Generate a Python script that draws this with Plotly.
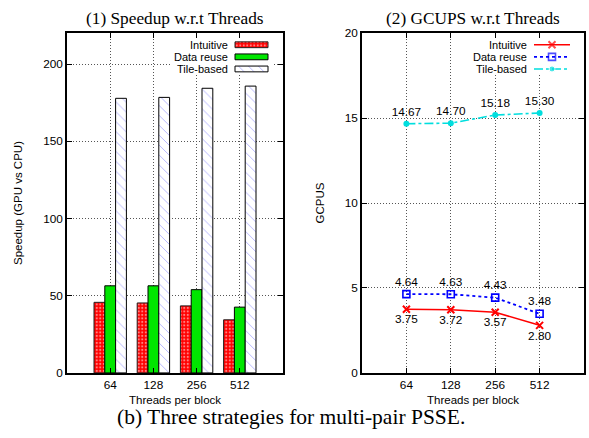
import plotly.graph_objects as go

# ---------------- data ----------------
threads = ["64", "128", "256", "512"]
series_names = ["Intuitive", "Data reuse", "Tile-based"]

speedup_intuitive = [45.7, 45.3, 43.4, 34.4]
speedup_data_reuse = [56.4, 56.4, 53.9, 42.6]
speedup_tile = [177.8, 178.4, 184.3, 185.7]

gcups_intuitive = [3.75, 3.72, 3.57, 2.80]
gcups_data_reuse = [4.64, 4.63, 4.43, 3.48]
gcups_tile = [14.67, 14.70, 15.18, 15.30]

speedup_ticks = [0, 50, 100, 150, 200]
gcups_ticks = [0, 5, 10, 15, 20]

# ---------------- styles ----------------
W, H = 589, 438
SANS = "Liberation Sans, Arial, sans-serif"
SERIF = "Liberation Serif, Times New Roman, serif"
FS = 11.8
LFS = 11


def px(x):
    return x / W


def py(y):
    return 1 - y / H


dom_x1 = [px(67), px(283)]
dom_x2 = [px(362), px(584)]
dom_y = [py(378), py(27)]

RED = "#ff0000"
GREEN = "#00e600"
BLUE = "#3333ff"
LBLUE = "#0000ff"
CYAN = "#00dede"

bar_styles = [
    dict(color=RED, line=dict(color="#222", width=1),
         pattern=dict(shape=".", fgcolor="white", bgcolor=RED, size=3.5, solidity=0.3)),
    dict(color=GREEN, line=dict(color="black", width=1)),
    dict(color="white", line=dict(color="black", width=1),
         pattern=dict(shape="\\", fgcolor=BLUE, bgcolor="white", size=7, solidity=0.1)),
]

line_styles = [
    dict(line=dict(color=RED, width=1.6),
         marker=dict(symbol="x-thin-open", size=7, color=RED, line=dict(color=RED, width=2)),
         textposition="bottom center"),
    dict(line=dict(color=LBLUE, width=1.8, dash="dot"),
         marker=dict(symbol="square-open", size=7, color=LBLUE, line=dict(color=LBLUE, width=1.6)),
         textposition="top center"),
    dict(line=dict(color=CYAN, width=1.6, dash="dashdot"),
         marker=dict(symbol="circle", size=6, color=CYAN),
         textposition="top center"),
]

fig = go.Figure()

# ---------------- panel 1: bars ----------------
for name, vals, st in zip(series_names,
                          [speedup_intuitive, speedup_data_reuse, speedup_tile],
                          bar_styles):
    fig.add_trace(go.Bar(x=threads, y=vals, name=name, marker=st,
                         xaxis="x", yaxis="y", hoverinfo="x+y+name"))

# ---------------- panel 2: lines ----------------
for name, vals, st in zip(series_names,
                          [gcups_intuitive, gcups_data_reuse, gcups_tile],
                          line_styles):
    fig.add_trace(go.Scatter(x=threads, y=vals, name=name,
                             mode="lines+markers+text",
                             text=[f"{v:.2f}" for v in vals],
                             textposition=st["textposition"],
                             textfont=dict(family=SANS, size=FS, color="black"),
                             line=st["line"], marker=st["marker"],
                             xaxis="x2", yaxis="y2", cliponaxis=False))

# ---------------- custom legends (gnuplot style: text then sample) ----------------
legend_rows_px = [39, 51.5, 64]
p1_w, p1_h = 283 - 67, 378 - 27
p2_w = 584 - 362
row_frac = [(378 - r) / p1_h for r in legend_rows_px]

box_y0 = (378 - 70) / p1_h
box_y1 = (378 - 31) / p1_h

# white legend boxes (hide grid lines behind legend)
for xa, ya, bx0, bx1 in [("x3", "y3", (170 - 67) / p1_w, (274 - 67) / p1_w),
                         ("x4", "y4", (467 - 362) / p2_w, (575 - 362) / p2_w)]:
    fig.add_trace(go.Bar(orientation="h", y=[(box_y0 + box_y1) / 2], x=[bx1 - bx0], base=[bx0],
                         width=[box_y1 - box_y0], offset=[-(box_y1 - box_y0) / 2],
                         marker=dict(color="white", line=dict(width=0)),
                         xaxis=xa, yaxis=ya, hoverinfo="skip", showlegend=False))

# bar samples on an overlay axis (0..1 within panel 1)
s_x0 = (235 - 67) / p1_w
s_len = 33 / p1_w
s_h = 6 / p1_h
for name, fy, st in zip(series_names, row_frac, bar_styles):
    fig.add_trace(go.Bar(orientation="h", y=[fy], x=[s_len], base=[s_x0],
                         width=[s_h], offset=[-s_h / 2], marker=st,
                         xaxis="x3", yaxis="y3", hoverinfo="skip", showlegend=False))

# line samples on an overlay axis (0..1 within panel 2)
l_x0 = (534 - 362) / p2_w
l_x1 = (570 - 362) / p2_w
l_xm = (l_x0 + l_x1) / 2
for name, fy, st in zip(series_names, row_frac, line_styles):
    mk = dict(st["marker"])
    mk["size"] = [0, st["marker"]["size"], 0]
    fig.add_trace(go.Scatter(x=[l_x0, l_xm, l_x1], y=[fy, fy, fy], mode="lines+markers",
                             line=st["line"], marker=mk,
                             xaxis="x4", yaxis="y4", hoverinfo="skip", showlegend=False))

annotations = []
for name, r in zip(series_names, legend_rows_px):
    annotations.append(dict(text=name, x=px(230), y=py(r), xref="paper", yref="paper",
                            xanchor="right", yanchor="middle", showarrow=False,
                            font=dict(family=SANS, size=LFS, color="black")))
    annotations.append(dict(text=name, x=px(529), y=py(r), xref="paper", yref="paper",
                            xanchor="right", yanchor="middle", showarrow=False,
                            font=dict(family=SANS, size=LFS, color="black")))

# titles, axis titles, caption
annotations += [
    dict(text="(1) Speedup w.r.t Threads", x=px(175), y=py(12), xref="paper", yref="paper",
         xanchor="center", yanchor="middle", showarrow=False,
         font=dict(family=SERIF, size=17.3, color="black")),
    dict(text="(2) GCUPS w.r.t Threads", x=px(473), y=py(12), xref="paper", yref="paper",
         xanchor="center", yanchor="middle", showarrow=False,
         font=dict(family=SERIF, size=17.3, color="black")),
    dict(text="Speedup (GPU vs CPU)", x=px(18), y=py(202.5), xref="paper", yref="paper",
         xanchor="center", yanchor="middle", textangle=-90, showarrow=False,
         font=dict(family=SANS, size=11.5, color="black")),
    dict(text="GCPUS", x=px(320.5), y=py(202.5), xref="paper", yref="paper",
         xanchor="center", yanchor="middle", textangle=-90, showarrow=False,
         font=dict(family=SANS, size=11.5, color="black")),
    dict(text="Threads per block", x=px(175), y=py(406), xref="paper", yref="paper",
         xanchor="center", yanchor="middle", showarrow=False,
         font=dict(family=SANS, size=11.5, color="black")),
    dict(text="Threads per block", x=px(473), y=py(406), xref="paper", yref="paper",
         xanchor="center", yanchor="middle", showarrow=False,
         font=dict(family=SANS, size=11.5, color="black")),
    dict(text="(b) Three strategies for multi-pair PSSE.", x=px(290.5), y=py(424),
         xref="paper", yref="paper", xanchor="center", yanchor="middle", showarrow=False,
         font=dict(family=SERIF, size=21.5, color="black")),
]

axis_common = dict(showline=True, linecolor="black", linewidth=1.5, mirror="allticks",
                   ticks="inside", ticklen=5, tickcolor="black", tickwidth=1,
                   showgrid=True, gridcolor="#555", griddash="1px,2px", gridwidth=1,
                   zeroline=False, tickfont=dict(family=SANS, size=FS, color="black"),
                   fixedrange=True)

fig.update_layout(
    width=W, height=H,
    margin=dict(l=0, r=0, t=0, b=0),
    paper_bgcolor="white", plot_bgcolor="white",
    showlegend=False,
    barmode="group", bargap=0.25, bargroupgap=0,
    annotations=annotations,
    xaxis=dict(domain=dom_x1, anchor="y", type="category", categoryorder="array",
               categoryarray=threads, range=[-1, 4], **axis_common),
    yaxis=dict(domain=dom_y, anchor="x", range=[0, 220], tickvals=speedup_ticks, **axis_common),
    xaxis2=dict(domain=dom_x2, anchor="y2", type="category", categoryorder="array",
                categoryarray=threads, range=[-1, 4], **axis_common),
    yaxis2=dict(domain=dom_y, anchor="x2", range=[0, 20], tickvals=gcups_ticks, **axis_common),
    xaxis3=dict(overlaying="x", anchor="y3", range=[0, 1], visible=False, fixedrange=True),
    yaxis3=dict(overlaying="y", anchor="x3", range=[0, 1], visible=False, fixedrange=True),
    xaxis4=dict(overlaying="x2", anchor="y4", range=[0, 1], visible=False, fixedrange=True),
    yaxis4=dict(overlaying="y2", anchor="x4", range=[0, 1], visible=False, fixedrange=True),
)

fig.write_html("out.html", config={"displayModeBar": False},
               post_script="document.body.style.margin='0';document.body.style.padding='0';")
